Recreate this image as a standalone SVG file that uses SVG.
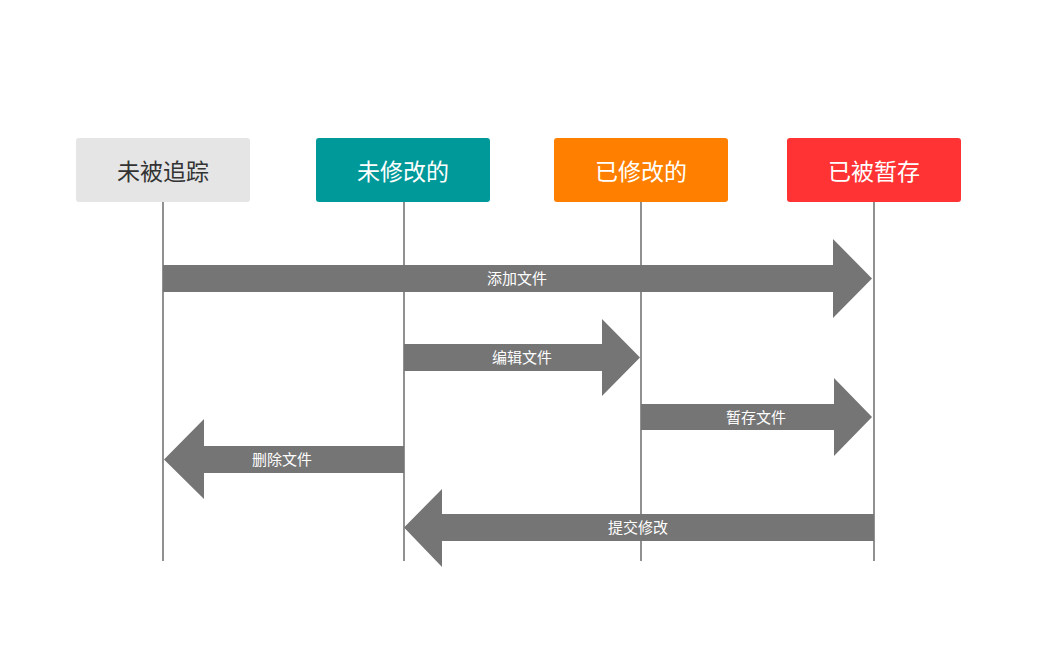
<svg xmlns="http://www.w3.org/2000/svg" width="1051" height="660" viewBox="0 0 1051 660">
<style>
.box{stroke:none}
.ht{font-family:"Noto Sans CJK SC","Noto Sans",sans-serif;font-size:23px;text-anchor:middle;dominant-baseline:central}
.life{stroke:#757575;stroke-width:1.6;fill:none}
.arr{fill:#757575}
.al{font-family:"Noto Sans CJK SC","Noto Sans",sans-serif;font-size:15px;fill:#ffffff;text-anchor:middle;dominant-baseline:central}
</style>
<rect width="1051" height="660" fill="#ffffff"/>
<g id="lifelines">
<line class="life" x1="163" y1="202" x2="163" y2="561"/>
<line class="life" x1="404" y1="202" x2="404" y2="561"/>
<line class="life" x1="641" y1="202" x2="641" y2="561"/>
<line class="life" x1="874" y1="202" x2="874" y2="561"/>
</g>
<g id="node-untracked">
<rect class="box" x="76" y="138" width="174" height="64" rx="3" fill="#e5e5e5"/>
<text class="ht" x="163" y="170" fill="#333333">未被追踪</text>
</g>
<g id="node-unmodified">
<rect class="box" x="316" y="138" width="174" height="64" rx="3" fill="#009999"/>
<text class="ht" x="403" y="170" fill="#ffffff">未修改的</text>
</g>
<g id="node-modified">
<rect class="box" x="554" y="138" width="174" height="64" rx="3" fill="#ff8000"/>
<text class="ht" x="641" y="170" fill="#ffffff">已修改的</text>
</g>
<g id="node-staged">
<rect class="box" x="787" y="138" width="174" height="64" rx="3" fill="#ff3333"/>
<text class="ht" x="874" y="170" fill="#ffffff">已被暂存</text>
</g>
<g id="connectors">
<g id="arrow-add">
<polygon class="arr" points="163,265 833,265 833,239 872,278.5 833,318 833,292 163,292"/>
<text class="al" x="517" y="277.5">添加文件</text>
</g>
<g id="arrow-edit">
<polygon class="arr" points="404,344 602,344 602,319 640,357.5 602,396 602,371 404,371"/>
<text class="al" x="522" y="356.5">编辑文件</text>
</g>
<g id="arrow-stage">
<polygon class="arr" points="641,404 834,404 834,378 872,417 834,456 834,430 641,430"/>
<text class="al" x="756" y="416">暂存文件</text>
</g>
<g id="arrow-delete">
<polygon class="arr" points="404,446 204,446 204,419 164,459.5 204,499 204,473 404,473"/>
<text class="al" x="282" y="458.5">删除文件</text>
</g>
<g id="arrow-commit">
<polygon class="arr" points="874,514 442,514 442,489 404,527.5 442,567 442,541 874,541"/>
<text class="al" x="638" y="526.5">提交修改</text>
</g>
</g>
</svg>
